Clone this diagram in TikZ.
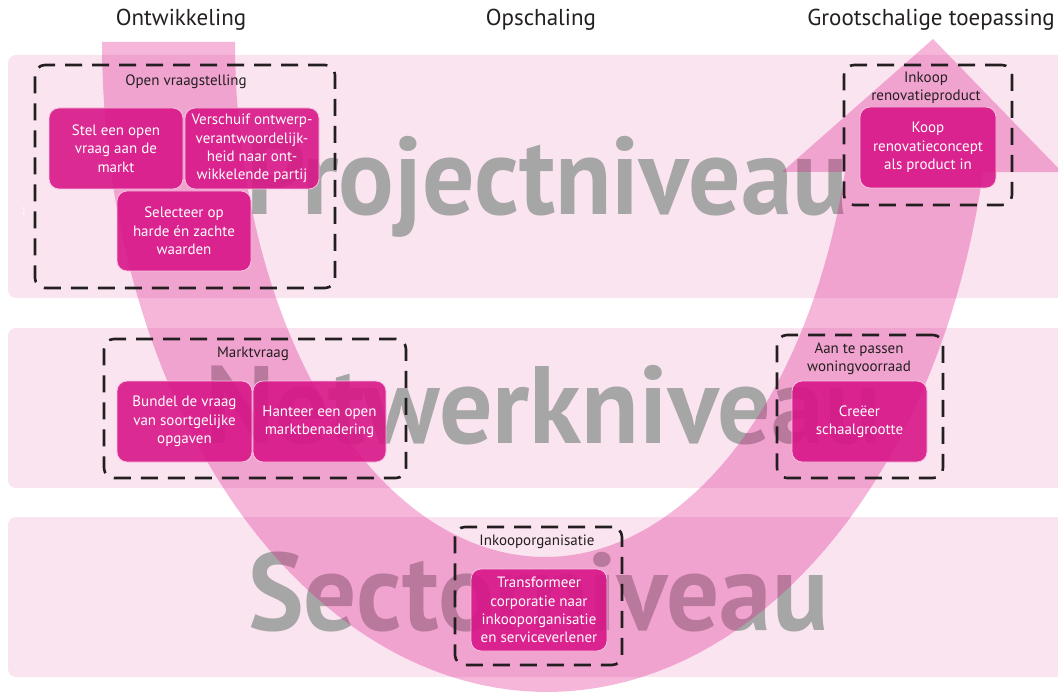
\documentclass[tikz,border=0pt]{standalone}
\usepackage{fontspec}
\setmainfont{PT Sans}
\definecolor{bandc}{RGB}{250,228,240}
\definecolor{arrowc}{RGB}{224,32,140}
\definecolor{boxc}{RGB}{216,22,136}
\definecolor{boxline}{RGB}{246,196,224}
\definecolor{bigc}{RGB}{166,166,166}
\definecolor{ink}{RGB}{35,31,32}
\tikzset{
  band/.style={fill=bandc, rounded corners=8pt},
  bigtext/.style={text=bigc, font=\fontsize{110}{110}\selectfont\bfseries, inner sep=0pt, anchor=base west},
  arrowshape/.style={fill=arrowc, fill opacity=0.33},
  dbox/.style={draw=ink, line width=2.6pt, dash pattern=on 17pt off 10pt, rounded corners=10pt, inner sep=0pt},
  mbox/.style={fill=boxc, fill opacity=0.9, text opacity=1, draw=boxline, line width=0.8pt, rounded corners=10pt,
    text=white, align=center, inner sep=0pt, font=\fontsize{15}{18.3}\selectfont},
  lbl/.style={text=ink, align=center, inner sep=0pt, font=\fontsize{15}{18.3}\selectfont},
  title/.style={text=ink, inner sep=0pt, font=\fontsize{23}{28}\selectfont},
}
\begin{document}
\begin{tikzpicture}[x=1pt, y=-1pt]
\useasboundingbox (0,0) rectangle (1058,695);
\clip (0,0) rectangle (1058,695);
% bands
\fill[band] (8,55) rectangle (1075,298);
\fill[band] (8,328) rectangle (1075,488);
\fill[band] (8,517) rectangle (1075,677);
% big level names
\node[bigtext, xscale=0.942] (pn) at (246,215) {Projectniveau};
\node[bigtext, xscale=0.962] (nn) at (205,443) {Netwerkniveau};
\node[bigtext, xscale=0.955] (sn) at (248,630) {Sectorniveau};
% big U arrow
\fill[arrowshape]
  plot[domain=180:11.54, samples=90] ({547+445*cos(\x)},{42+650*sin(\x)})
  -- (1062,172) -- (933,39) -- (782,172)
  -- plot[domain=14.62:180, samples=90] ({545+310*cos(\x)},{42+515*sin(\x)})
  -- cycle;
% titles
\node[title] (t1) at (181,20) {Ontwikkeling};
\node[title] (t2) at (541,20) {Opschaling};
\node[title] (t3) at (931,20) {Grootschalige toepassing};
% dashed groups
\node[dbox, minimum width=300pt, minimum height=223pt] (g1) at (185,176.5) {};
\node[dbox, minimum width=168pt, minimum height=140pt] (g2) at (928,135) {};
\node[dbox, minimum width=302pt, minimum height=139pt] (g3) at (255,408.5) {};
\node[dbox, minimum width=166pt, minimum height=143pt] (g4) at (860,406.5) {};
\node[dbox, minimum width=167pt, minimum height=138pt] (g5) at (538.5,596) {};
% group labels
\node[lbl] (l1) at (186,82) {Open vraagstelling};
\node[lbl] (l2) at (926,87.5) {Inkoop\\renovatieproduct};
\node[lbl] (l3) at (253,354) {Marktvraag};
\node[lbl] (l4) at (859,358.5) {Aan te passen\\woningvoorraad};
\node[lbl] (l5) at (537,542) {Inkooporganisatie};
% magenta boxes
\node[mbox, minimum width=134pt, minimum height=81pt] (a) at (116,148.5) {Stel een open\\vraag aan de\\markt};
\node[mbox, minimum width=134pt, minimum height=81pt] (b) at (252,148.5) {Verschuif ontwerp-\\verantwoordelijk-\\heid naar ont-\\wikkelende partij};
\node[mbox, minimum width=134pt, minimum height=80pt] (c) at (184,231) {Selecteer op\\harde én zachte\\waarden};
\node[mbox, minimum width=136pt, minimum height=81pt] (d) at (928,147.5) {Koop\\renovatieconcept\\als product in};
\node[mbox, minimum width=135pt, minimum height=81pt] (e) at (184.5,421.5) {Bundel de vraag\\van soortgelijke\\opgaven};
\node[mbox, minimum width=133pt, minimum height=81pt] (f) at (319.5,421.5) {Hanteer een open\\marktbenadering};
\node[mbox, minimum width=135pt, minimum height=81pt] (g) at (859.5,421.5) {Creëer\\schaalgrootte};
\node[mbox, minimum width=136pt, minimum height=82pt] (h) at (539,610) {Transformeer\\corporatie naar\\inkooporganisatie\\en serviceverlener};
% small stray mark
\node[text=white, inner sep=0pt, font=\fontsize{9}{9}\selectfont] (m) at (24,211) {)};
\end{tikzpicture}
\end{document}
